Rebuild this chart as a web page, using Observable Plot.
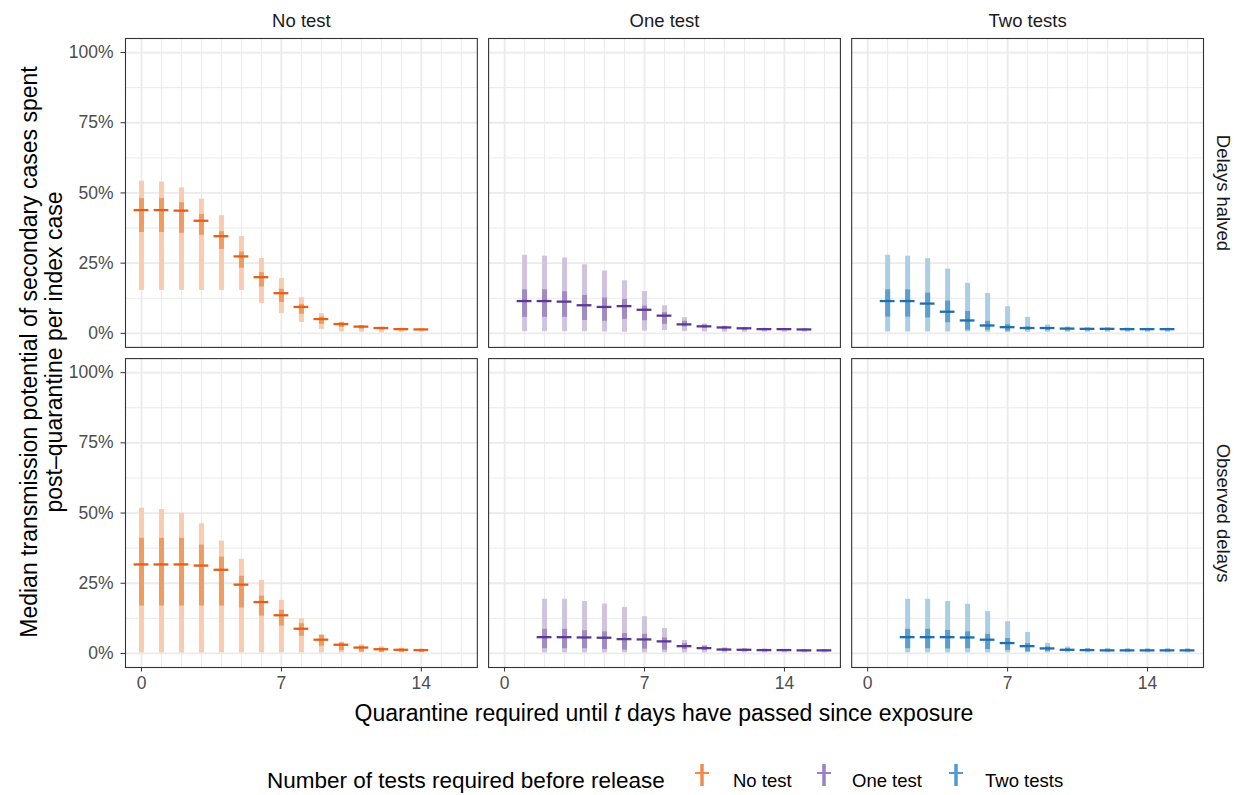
<!DOCTYPE html>
<html>
<head>
<meta charset="utf-8">
<script src="https://cdn.jsdelivr.net/npm/d3@7"></script>
<script src="https://cdn.jsdelivr.net/npm/@observablehq/plot@0.6"></script>
<style>
  html, body { margin: 0; padding: 0; background: #fff; }
  #wrap { position: relative; width: 1236px; height: 795px; font-family: "Liberation Sans", Arial, sans-serif; }
  #legend { position: absolute; left: 0; top: 764px; width: 1236px; height: 30px; font-size: 22.5px; color: #000; }
  #legend .item { position: absolute; top: 0; height: 34px; line-height: 34px; white-space: nowrap; }
  #legend .lab { font-size: 18.5px; }
</style>
</head>
<body>
<div id="wrap">
  <div id="chart"></div>
  <div id="legend"></div>
</div>
<script>
// ---- Data (values in percent) ----
const tests = ["No test", "One test", "Two tests"];
const delays = ["Delays halved", "Observed delays"];

// Delays halved — No test
const dayHalvedNone = [0,1,2,3,4,5,6,7,8,9,10,11,12,13,14];
const medHalvedNone = [43.9,43.9,43.7,40.1,34.6,27.4,20.0,14.3,9.4,5.1,3.3,2.4,1.9,1.5,1.4];
const hi95HalvedNone = [54.2,53.9,51.8,47.8,41.9,34.5,26.7,19.5,12.7,7.0,4.0,2.8,2.2,1.8,1.6];
const lo95HalvedNone = [15.3,15.3,15.3,15.3,15.3,15.3,10.6,7.0,3.9,1.4,0.5,0.4,0.2,0.3,0.5];
const hi50HalvedNone = [48.0,48.0,46.5,42.3,36.2,28.9,21.6,15.7,10.3,5.8,3.8,2.7,2.1,1.7,1.5];
const lo50HalvedNone = [35.9,35.9,35.6,34.9,29.9,23.2,16.5,11.0,6.8,3.2,2.1,1.5,1.2,1.1,1.1];

// Delays halved — One test
const dayHalvedOne = [1,2,3,4,5,6,7,8,9,10,11,12,13,14,15];
const medHalvedOne = [11.5,11.5,11.3,10.0,9.4,9.7,8.4,6.3,3.2,2.5,2.1,1.8,1.5,1.5,1.4];
const hi95HalvedOne = [27.8,27.5,26.8,24.4,22.2,18.7,14.9,9.8,5.6,3.3,2.4,2.0,1.8,1.7,1.6];
const lo95HalvedOne = [0.6,0.6,0.6,0.6,0.5,0.4,0.8,1.0,0.6,0.5,0.4,0.4,0.4,0.4,0.4];
const hi50HalvedOne = [15.5,15.5,14.8,13.5,12.6,12.1,9.7,7.4,4.3,3.0,2.5,1.9,1.7,1.6,1.5];
const lo50HalvedOne = [5.7,5.7,5.7,4.6,4.3,5.0,4.5,3.2,2.3,1.8,1.3,1.1,1.0,1.0,1.0];

// Delays halved — Two tests
const dayHalvedTwo = [1,2,3,4,5,6,7,8,9,10,11,12,13,14,15];
const medHalvedTwo = [11.5,11.5,10.6,7.7,4.6,2.8,2.2,1.9,1.9,1.7,1.6,1.6,1.5,1.5,1.5];
const hi95HalvedTwo = [27.8,27.5,26.6,22.9,17.8,14.2,9.5,5.7,3.0,2.3,2.0,2.0,1.9,1.8,1.8];
const lo95HalvedTwo = [0.5,0.5,0.5,0.5,0.5,0.4,0.3,0.4,0.4,0.4,0.4,0.4,0.4,0.4,0.4];
const hi50HalvedTwo = [15.5,15.5,14.3,11.5,7.8,4.3,3.1,2.3,2.1,1.9,1.8,1.8,1.7,1.7,1.7];
const lo50HalvedTwo = [5.8,5.8,5.5,3.8,1.1,1.1,0.8,1.1,1.0,0.9,0.9,0.9,0.9,0.9,0.9];

// Observed delays — No test
const dayObsNone = [0,1,2,3,4,5,6,7,8,9,10,11,12,13,14];
const medObsNone = [31.7,31.7,31.7,31.3,29.8,24.5,18.3,13.6,8.8,4.9,3.1,2.1,1.5,1.3,1.2];
const hi95ObsNone = [51.7,51.3,49.9,46.2,40.0,33.5,26.0,18.9,12.4,6.7,4.0,3.0,2.4,1.8,1.6];
const lo95ObsNone = [0.2,0.2,0.2,0.2,0.2,0.2,0.2,0.2,0.2,0.2,0.2,0.2,0.2,0.2,0.2];
const hi50ObsNone = [41.0,41.0,41.0,38.6,34.3,27.5,20.4,15.4,10.6,6.4,3.7,2.6,1.9,1.6,1.4];
const lo50ObsNone = [16.9,16.9,16.9,16.9,16.9,16.2,13.3,9.8,6.1,2.6,1.0,0.5,0.4,0.4,0.4];

// Observed delays — One test
const dayObsOne = [2,3,4,5,6,7,8,9,10,11,12,13,14,15,16];
const medObsOne = [5.8,5.8,5.7,5.6,5.1,5.0,4.3,2.6,1.9,1.4,1.3,1.2,1.2,1.1,1.1];
const hi95ObsOne = [19.3,19.3,18.5,17.6,16.4,13.1,8.9,4.6,2.9,2.0,1.5,1.4,1.4,1.3,1.3];
const lo95ObsOne = [0.2,0.2,0.2,0.2,0.2,0.2,0.2,0.2,0.2,0.2,0.2,0.2,0.2,0.2,0.2];
const hi50ObsOne = [8.6,8.6,8.1,7.7,7.1,6.8,5.5,3.5,2.5,1.8,1.6,1.5,1.4,1.3,1.3];
const lo50ObsOne = [1.7,1.7,1.7,1.4,1.2,1.5,1.2,1.4,1.1,0.8,0.8,0.7,0.7,0.7,0.7];

// Observed delays — Two tests
const dayObsTwo = [2,3,4,5,6,7,8,9,10,11,12,13,14,15,16];
const medObsTwo = [5.8,5.8,5.8,5.7,4.9,3.7,2.6,1.8,1.3,1.2,1.1,1.1,1.1,1.1,1.1];
const hi95ObsTwo = [19.3,19.3,18.5,17.5,14.9,11.3,7.5,3.6,2.3,1.7,1.7,1.6,1.6,1.6,1.6];
const lo95ObsTwo = [0.2,0.2,0.2,0.2,0.2,0.2,0.2,0.2,0.2,0.2,0.2,0.2,0.2,0.2,0.2];
const hi50ObsTwo = [8.6,8.6,8.2,7.7,6.8,5.3,3.5,2.3,1.7,1.6,1.5,1.5,1.5,1.5,1.5];
const lo50ObsTwo = [1.7,1.7,1.6,1.7,1.4,1.1,0.6,0.7,0.7,0.7,0.7,0.7,0.7,0.7,0.7];

const yTicks = [0, 25, 50, 75, 100];
const xTicks = [0, 7, 14];

// ---- Styles ----
const colMedian = {"No test": "#e35f17", "One test": "#5b3897", "Two tests": "#1f6fb0"};
const colInner  = {"No test": "#ef9c63", "One test": "#a08bc3", "Two tests": "#5d9fcc"};
const colOuter  = {"No test": "#f7ccb0", "One test": "#cec4df", "Two tests": "#abcee3"};
const colKey    = {"No test": "#f28a4c", "One test": "#9b80c3", "Two tests": "#4f9ad0"};

// ---- Build table ----
function panel(test, delay, day, med, lo95, hi95, lo50, hi50) {
  return day.map((d, i) => ({test, delay, day: d, med: med[i], lo95: lo95[i], hi95: hi95[i], lo50: lo50[i], hi50: hi50[i]}));
}
const rows = [
  ...panel("No test", "Delays halved", dayHalvedNone, medHalvedNone, lo95HalvedNone, hi95HalvedNone, lo50HalvedNone, hi50HalvedNone),
  ...panel("One test", "Delays halved", dayHalvedOne, medHalvedOne, lo95HalvedOne, hi95HalvedOne, lo50HalvedOne, hi50HalvedOne),
  ...panel("Two tests", "Delays halved", dayHalvedTwo, medHalvedTwo, lo95HalvedTwo, hi95HalvedTwo, lo50HalvedTwo, hi50HalvedTwo),
  ...panel("No test", "Observed delays", dayObsNone, medObsNone, lo95ObsNone, hi95ObsNone, lo50ObsNone, hi50ObsNone),
  ...panel("One test", "Observed delays", dayObsOne, medObsOne, lo95ObsOne, hi95ObsOne, lo50ObsOne, hi50ObsOne),
  ...panel("Two tests", "Observed delays", dayObsTwo, medObsTwo, lo95ObsTwo, hi95ObsTwo, lo50ObsTwo, hi50ObsTwo)
];

const chart = Plot.plot({
  width: 1236,
  height: 740,
  marginLeft: 125,
  marginRight: 33,
  marginTop: 38,
  marginBottom: 73,
  style: {fontFamily: "'Liberation Sans', Arial, sans-serif", fontSize: "17.5px", background: "#fff"},
  fx: {domain: tests, paddingInner: 0.031, paddingOuter: 0, round: false},
  fy: {domain: delays, paddingInner: 0.035, paddingOuter: 0, round: false},
  x: {domain: [-0.8, 16.8]},
  y: {domain: [-5, 105]},
  color: {type: "identity"},
  marks: [
    Plot.gridX({ticks: d3.range(0, 17), stroke: "#ebebeb", strokeOpacity: 1, strokeWidth: 1}),
    Plot.gridY({ticks: [12.5, 37.5, 62.5, 87.5], stroke: "#ebebeb", strokeOpacity: 1, strokeWidth: 1}),
    Plot.gridX({ticks: xTicks, stroke: "#ebebeb", strokeOpacity: 1, strokeWidth: 1.8}),
    Plot.gridY({ticks: yTicks, stroke: "#ebebeb", strokeOpacity: 1, strokeWidth: 1.8}),
    Plot.ruleX(rows, {x: "day", y1: "lo95", y2: "hi95", fx: "test", fy: "delay", stroke: d => colOuter[d.test], strokeWidth: 5}),
    Plot.ruleX(rows, {x: "day", y1: "lo50", y2: "hi50", fx: "test", fy: "delay", stroke: d => colInner[d.test], strokeWidth: 5}),
    Plot.ruleY(rows, {y: "med", x1: d => d.day - 0.37, x2: d => d.day + 0.37, fx: "test", fy: "delay", stroke: d => colMedian[d.test], strokeWidth: 2.3}),
    Plot.frame({stroke: "#333333", strokeWidth: 1.1}),
    Plot.axisX({ticks: xTicks, tickSize: 4.5, tickPadding: 5, fontSize: 17.5, color: "#4d4d4d", stroke: "#333333", label: null}),
    Plot.axisY({ticks: yTicks, tickFormat: d => d + "%", tickSize: 4.5, tickPadding: 7.5, fontSize: 17.5, color: "#4d4d4d", stroke: "#333333", label: null}),
    Plot.axisFx({anchor: "top", tickSize: 0, tickPadding: 12, fontSize: 18.5, color: "#1a1a1a", label: null}),
    Plot.axisFy({anchor: "right", tickSize: 0, tickPadding: 27, tickRotate: 90, fontSize: 18.5, color: "#1a1a1a", label: null})
  ]
});
document.getElementById("chart").appendChild(chart);

// Axis titles
const svg = d3.select(chart);
const yTitle = svg.append("text")
  .attr("transform", "translate(37,352) rotate(-90)")
  .attr("text-anchor", "middle")
  .attr("font-size", 23)
  .attr("fill", "#000");
yTitle.append("tspan").attr("x", 0).attr("dy", "0").text("Median transmission potential of secondary cases spent");
yTitle.append("tspan").attr("x", 0).attr("dy", "1.1em").text("post\u2013quarantine per index case");

const xTitle = svg.append("text")
  .attr("x", 664).attr("y", 721)
  .attr("text-anchor", "middle")
  .attr("font-size", 23)
  .attr("fill", "#000");
xTitle.append("tspan").text("Quarantine required until ");
xTitle.append("tspan").attr("font-style", "italic").text("t");
xTitle.append("tspan").text(" days have passed since exposure");

// Legend
const legend = d3.select("#legend");
legend.append("div").attr("class", "item").style("left", "267px").text("Number of tests required before release");
const keyCenter = {"No test": 702, "One test": 824, "Two tests": 956};
const labLeft = {"No test": 733, "One test": 852, "Two tests": 985};
for (const t of tests) {
  const k = legend.append("svg").attr("width", 16).attr("height", 24)
    .style("position", "absolute").style("left", (keyCenter[t] - 8) + "px").style("top", "0px");
  k.append("line").attr("x1", 8).attr("x2", 8).attr("y1", 0).attr("y2", 22).attr("stroke", colKey[t]).attr("stroke-width", 3.5);
  k.append("line").attr("x1", 1).attr("x2", 15).attr("y1", 9).attr("y2", 9).attr("stroke", colKey[t]).attr("stroke-width", 2);
  legend.append("div").attr("class", "item lab").style("left", labLeft[t] + "px").text(t);
}
</script>
</body>
</html>
